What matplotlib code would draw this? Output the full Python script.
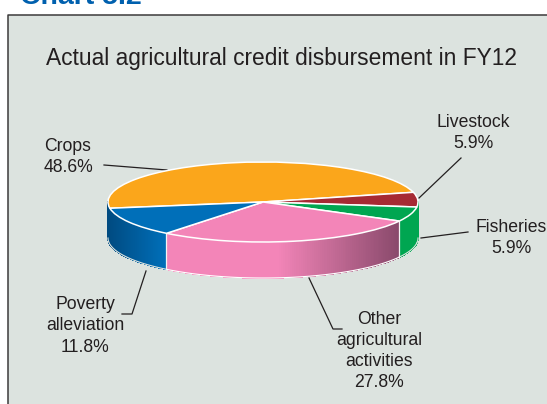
import numpy as np
import matplotlib
matplotlib.use('Agg')
import matplotlib.pyplot as plt
from matplotlib.collections import PolyCollection
from matplotlib.colors import to_rgb

plt.rcParams['font.family'] = ['Liberation Sans', 'DejaVu Sans']

W, H = 547, 404

# credit shares, clockwise from the left edge of the pie
categories = ['Crops', 'Livestock', 'Fisheries', 'Other agricultural activities', 'Poverty alleviation']
shares = [48.6, 5.9, 5.9, 27.8, 11.8]
top_colors = ['#fba61b', '#a62a33', '#00a651', '#f385b8', '#006fb9']

# side wall shading, left and right end for each slice
wall_left = ['#fba61b', '#00a651', '#00a651', '#f385b8', '#004a80']
wall_right = ['#fba61b', '#00a651', '#00a651', '#8a4a6c', '#006fb9']
wall_fade_start = [0, 0, 0, 0.48, 0]
rim_colors = ['#dce3df', '#dce3df', '#dce3df', 'white', '#dce3df']

labels = ['Crops\n48.6%', 'Livestock\n5.9%', 'Fisheries\n5.9%',
          'Other\nagricultural\nactivities\n27.8%', 'Poverty\nalleviation\n11.8%']
label_pos = [(68, 157), (473, 133), (511, 238), (379, 351), (85, 326)]

# leader lines in pixel coordinates
leaders = [
    [(104, 165), (167, 170)],
    [(419, 198), (461, 158)],
    [(421, 238), (468, 232)],
    [(309, 278), (333, 329), (342, 329)],
    [(146, 271), (132, 314), (122, 314)],
]

# ellipse of the pie top in pixels
cx, cy, rx, ry = 263, 202, 155, 40
depth = 36 / ry
start_angle = 189

fig = plt.figure(figsize=(W / 100, H / 100), dpi=100, facecolor='white')

# pixel axes for panel, text and leader lines
ax = fig.add_axes([0, 0, 1, 1])
ax.set_xlim(0, W)
ax.set_ylim(H, 0)
ax.axis('off')
ax.fill_between([8, W + 5], 15, H + 5, color='#dce3df', lw=0, zorder=0)
ax.plot([8, 8, W + 5], [H + 5, 15, 15], color='#3c3a3b', lw=1.1, zorder=1)

ax.text(20, 4, 'Chart 5.2', color='#0060ae', fontsize=20.5, fontweight='bold', ha='left', va='baseline')
ax.text(281, 58, 'Actual agricultural credit disbursement in FY12', color='#231f20',
        fontsize=16.4, ha='center', va='center')

for pts in leaders:
    xs, ys = zip(*pts)
    ax.plot(xs, ys, color='#231f20', lw=0.9, zorder=2)
for txt, (x, y) in zip(labels, label_pos):
    ax.text(x, y, txt, color='#231f20', fontsize=12.7, ha='center', va='center', linespacing=1.31)

# pie axes: one data unit is the ellipse radius in each direction
pie_ax = fig.add_axes([0, 0, 1, 1], facecolor='none')
edges = start_angle - np.cumsum([0] + shares) * 3.6

# side walls go first so the top sits over them
for i in range(len(shares)):
    hi, lo = edges[i], edges[i + 1]
    # only the front half of the rim is visible
    lo_vis = -180 if i == len(shares) - 1 else max(lo, -180)
    hi_vis = min(hi, 0)
    if hi_vis <= lo_vis:
        continue
    th = np.radians(np.linspace(lo_vis, hi_vis, 120))
    # fraction along the slice from left to right on screen
    xpos = np.cos(th)
    f = (xpos - xpos.min()) / (xpos.max() - xpos.min())
    f = np.clip((f - wall_fade_start[i]) / (1 - wall_fade_start[i]), 0, 1)
    c0, c1 = np.array(to_rgb(wall_left[i])), np.array(to_rgb(wall_right[i]))
    polys, cols = [], []
    for j in range(len(th) - 1):
        a, b = th[j], th[j + 1]
        polys.append([(np.cos(a), np.sin(a)), (np.cos(b), np.sin(b)),
                      (np.cos(b), np.sin(b) - depth), (np.cos(a), np.sin(a) - depth)])
        cols.append(c0 + (c1 - c0) * (f[j] + f[j + 1]) / 2)
    pie_ax.add_collection(PolyCollection(polys, facecolors=cols, edgecolors=cols, linewidths=0.5,
                                         antialiased=False, zorder=1))
    # smooth the lower rim
    pie_ax.plot(np.cos(th), np.sin(th) - depth, color=rim_colors[i], lw=0.8, zorder=2)

# dividers between wall sections, none at the pie's far edges or between the two green parts
for e in edges[3:5]:
    a = np.radians(e)
    pie_ax.plot([np.cos(a)] * 2, [np.sin(a), np.sin(a) - depth], color='#f4f4f4', lw=0.9, zorder=2)

wedges, _ = pie_ax.pie(shares, colors=top_colors, startangle=start_angle, counterclock=False,
                       radius=1, center=(0, 0), frame=True,
                       wedgeprops=dict(edgecolor='white', linewidth=1.1, zorder=3))
pie_ax.set_aspect('auto')
pie_ax.set_xlim(-cx / rx, (W - cx) / rx)
pie_ax.set_ylim((cy - H) / ry, cy / ry)
pie_ax.axis('off')

fig.savefig('out.png', dpi=100)
